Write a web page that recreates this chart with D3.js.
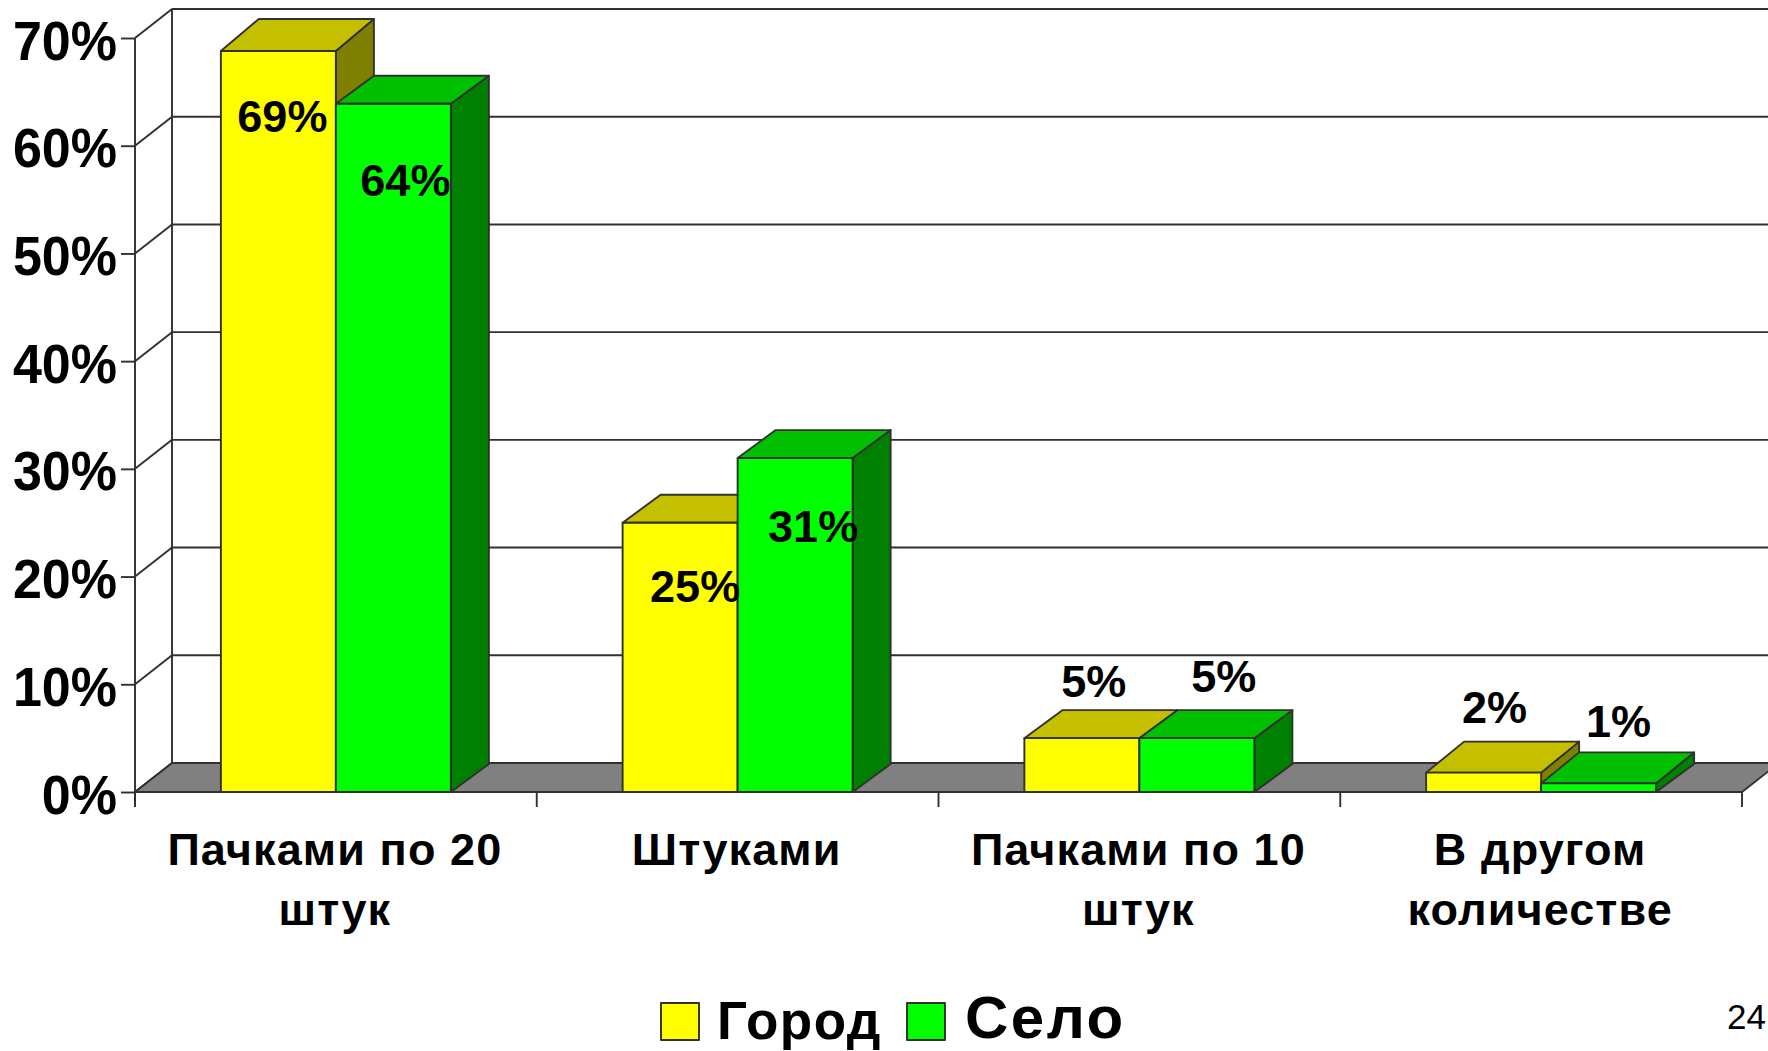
<!DOCTYPE html>
<html><head><meta charset="utf-8">
<script src="https://cdn.jsdelivr.net/npm/d3@7"></script>
<style>html,body{margin:0;padding:0;background:#fff;overflow:hidden}svg{display:block}
text{font-family:"Liberation Sans",Arial,sans-serif;fill:#000}</style></head>
<body><svg id="c" width="1768" height="1051"></svg>
<script>
// ---- data ----
const categories = [["Пачками по 20","штук"],["Штуками"],["Пачками по 10","штук"],["В другом","количестве"]];
const seriesNames = ["Город","Село"];
const gorod = [68.8, 25, 5, 1.8];
const selo  = [63.9, 31, 5, 0.8];
const gorodLabels = ["69%","25%","5%","2%"];
const seloLabels  = ["64%","31%","5%","1%"];
const yTicks = [0,10,20,30,40,50,60,70];
const pageNumber = "24";

// ---- layout / style ----
const W = 1768, H = 1051;
const floorDx = 37, floorDy = -29, barDx = 38, barDy = -28;
const plotL = 135, plotR = 1742, plotB = 792, plotT = 38;
const palette = [
  {front:"#ffff00", top:"#c4c000", side:"#808000"},
  {front:"#00ff00", top:"#00c000", side:"#008000"}
];
const lineCol = "#303030";
// label nudges from bar centre / bar top: [dx, baseline dy]
const labelNudge = [[[4,81],[12,92]],[[15,79],[18,84]],[[12,-41],[27,-46]],[[11,-50],[20,-46]]];
// extra top-face depth of individual bars (perspective of the original)
const extraDepth = [[4,0],[0,0],[0,0],[3,3]];

const svg = d3.select("#c");
const y = d3.scaleLinear().domain([0,70]).range([plotB,plotT]);
const idx = d3.range(categories.length);
const x0 = d3.scaleBand().domain(idx).range([plotL,plotR]).paddingInner(0.4275).paddingOuter(0.21375);
const x1 = d3.scaleBand().domain([0,1]).range([0,x0.bandwidth()]);
const stroke = s => s.attr("stroke",lineCol).attr("stroke-width",1.9).attr("stroke-linejoin","round");
const poly = (g,pts,fill) => g.append("polygon").attr("points",pts.map(p=>p.join(",")).join(" ")).attr("fill",fill).call(stroke);

// wall
const wall = svg.append("g");
yTicks.forEach(v=>{
  const yy=y(v);
  if(v>0) wall.append("line").attr("x1",plotL+floorDx).attr("x2",W+5).attr("y1",yy+floorDy).attr("y2",yy+floorDy).call(stroke);
  wall.append("line").attr("x1",plotL).attr("x2",plotL+floorDx).attr("y1",yy).attr("y2",yy+floorDy).call(stroke);
});
wall.append("line").attr("x1",plotL+floorDx).attr("x2",plotL+floorDx).attr("y1",y(70)+floorDy).attr("y2",plotB+floorDy).call(stroke);
poly(wall,[[plotL,plotB],[plotL+floorDx,plotB+floorDy],[plotR+floorDx,plotB+floorDy],[plotR,plotB]],"#808080");

// y axis
const yAxis = svg.append("g").attr("transform",`translate(${plotL},0)`)
  .call(d3.axisLeft(y).tickValues(yTicks).tickSize(14).tickPadding(5).tickFormat(d=>d+"%"));
yAxis.selectAll("path,line").attr("stroke",lineCol).attr("stroke-width",1.9);
yAxis.select(".domain").attr("d",`M0,${y(70)}V${plotB+15}`);
yAxis.selectAll("text").attr("font-family",null).style("font-size","52px").style("font-weight","bold")
  .attr("dy",null).attr("y",null).attr("x",null)
  .attr("transform","translate(-18,21) scale(1,1.08)");

// bars
idx.forEach(i=>{
  [gorod,selo].forEach((ser,s)=>{
    const g=svg.append("g"), c=palette[s];
    const l=x0(i)+x1(s), r=l+x1.bandwidth(), t=y(ser[i]), b=plotB, dy=barDy-extraDepth[i][s];
    poly(g,[[r,t],[r+barDx,t+dy],[r+barDx,b+barDy],[r,b]],c.side);
    poly(g,[[l,t],[l+barDx,t+dy],[r+barDx,t+dy],[r,t]],c.top);
    poly(g,[[l,t],[r,t],[r,b],[l,b]],c.front);
  });
});

// x axis line & ticks
const ticksX = d3.range(categories.length+1).map(i=>plotL+i*x0.step());
const xA = svg.append("g");
xA.append("line").attr("x1",plotL).attr("x2",plotR).attr("y1",plotB).attr("y2",plotB).call(stroke);
ticksX.forEach(tx=>xA.append("line").attr("x1",tx).attr("x2",tx).attr("y1",plotB).attr("y2",plotB+15).call(stroke));

// category labels
idx.forEach(i=>{
  const cx=x0(i)+x0.bandwidth()/2;
  categories[i].forEach((ln,k)=>{
    svg.append("text").attr("x",cx-1).attr("y",865+k*60).attr("text-anchor","middle")
      .attr("font-size",45).attr("font-weight","bold").attr("letter-spacing",1.1).text(ln);
  });
});

// data labels
idx.forEach(i=>{
  [[gorod,gorodLabels],[selo,seloLabels]].forEach(([ser,lab],s)=>{
    const cx=x0(i)+x1(s)+x1.bandwidth()/2, n=labelNudge[i][s];
    svg.append("text").attr("x",cx+n[0]).attr("y",y(ser[i])+n[1]).attr("text-anchor","middle")
      .attr("font-size",45).attr("font-weight","bold").text(lab[i]);
  });
});

// legend
const leg=[{bx:661,tx:717,fs:53,base:1039,ls:1.5},{bx:907,tx:965,fs:60,base:1038,ls:2.5}];
seriesNames.forEach((n,s)=>{
  svg.append("rect").attr("x",leg[s].bx).attr("y",1003).attr("width",38).attr("height",37).attr("fill",palette[s].front).call(stroke);
  svg.append("text").attr("x",leg[s].tx).attr("y",leg[s].base).attr("font-size",leg[s].fs).attr("font-weight","bold").attr("letter-spacing",leg[s].ls).text(n);
});
svg.append("text").attr("x",1727).attr("y",1029).attr("font-size",35).text(pageNumber);
</script></body></html>
